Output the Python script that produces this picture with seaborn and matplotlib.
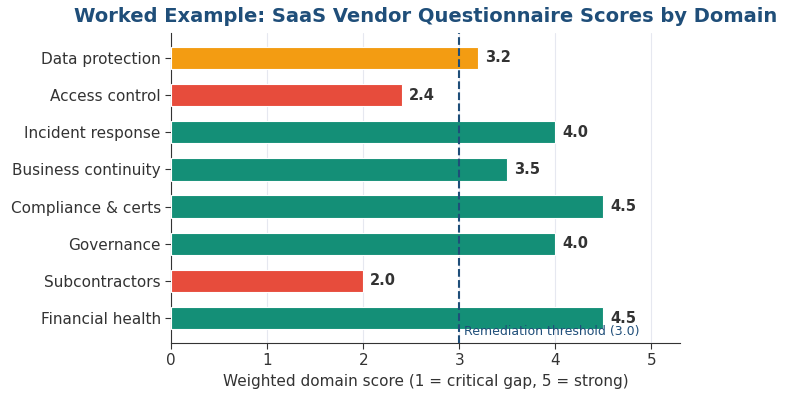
import matplotlib
matplotlib.use("Agg")
import matplotlib.pyplot as plt
import seaborn as sns
import pandas as pd

domains = ["Data protection", "Access control", "Incident response", "Business continuity",
           "Compliance & certs", "Governance", "Subcontractors", "Financial health"]
scores = [3.2, 2.4, 4.0, 3.5, 4.5, 4.0, 2.0, 4.5]
bar_colors = ["#f39c12", "#e74c3c", "#148f77", "#148f77", "#148f77", "#148f77", "#e74c3c", "#148f77"]
threshold = 3.0

df = pd.DataFrame({"domain": domains, "score": scores})

sns.set_style("white")
fig, ax = plt.subplots(figsize=(7.89, 4), dpi=100)
fig.subplots_adjust(left=0.217, right=0.862, top=0.9175, bottom=0.1425)

sns.barplot(data=df, x="score", y="domain", hue="domain", palette=bar_colors,
            saturation=1, legend=False, width=0.6, edgecolor="white", linewidth=0.8,
            ax=ax, zorder=3)

for i, v in enumerate(scores):
    ax.text(v + 0.07, i, f"{v:.1f}", va="center", ha="left", fontsize=10.5,
            fontweight="bold", color="#333333", zorder=4)

ax.axvline(threshold, color="#1f4e79", linestyle="--", linewidth=1.5, zorder=4)
ax.text(threshold + 0.05, 7.35, "Remediation threshold (3.0)", color="#1f4e79",
        fontsize=9, va="center", ha="left", zorder=5)

ax.set_xlim(0, 5.3)
ax.set_ylim(7.67, -0.67)
ax.set_xticks([0, 1, 2, 3, 4, 5])
ax.xaxis.grid(True, color="#e6e8f0", linewidth=0.8, zorder=0)
ax.set_axisbelow(True)
sns.despine(ax=ax)
for s in ["left", "bottom"]:
    ax.spines[s].set_color("#333333")
ax.tick_params(axis="both", labelsize=11, colors="#333333", length=4, left=True, bottom=True)
ax.set_ylabel("")
ax.set_xlabel("Weighted domain score (1 = critical gap, 5 = strong)", fontsize=11, color="#333333")
ax.set_title("Worked Example: SaaS Vendor Questionnaire Scores by Domain",
             fontsize=14, fontweight="bold", color="#1f4e79", pad=8)

fig.savefig("out.png", dpi=100)
